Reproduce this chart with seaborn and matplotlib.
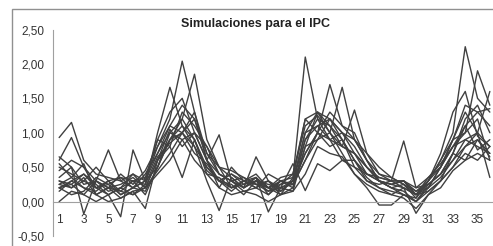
import matplotlib
matplotlib.use('Agg')
import pandas as pd
import matplotlib.pyplot as plt
import matplotlib.patches as patches
import seaborn as sns

sns.set_style("white")
plt.rcParams['font.family'] = ['Liberation Sans', 'DejaVu Sans']

meses = list(range(1, 37))

# simulated IPC paths, one list per simulation
sim01 = [0.25, 0.35, 0.2, 0.15, 0.3, 0.1, 0.2, 0.3, 0.8, 1.2, 2.04, 1.3, 0.6, 0.4, 0.3, 0.2, 0.35, 0.1,
         0.25, 0.4, 1.2, 1.3, 1.1, 0.9, 0.6, 0.4, 0.3, 0.2, 0.15, 0.0, 0.2, 0.5, 0.9, 1.3, 1.0, 0.8]
sim02 = [0.6, 0.93, 0.5, 0.3, 0.2, 0.15, 0.3, 0.25, 1.0, 1.66, 1.1, 0.9, 0.4, 0.35, 0.2, 0.3, 0.25, 0.2,
         0.1, 0.2, 0.9, 1.1, 1.2, 1.0, 0.7, 0.5, 0.35, 0.3, 0.3, 0.1, 0.25, 0.4, 0.7, 1.1, 1.3, 1.1]
sim03 = [0.3, 0.2, 0.35, 0.1, 0.2, 0.05, 0.15, 0.2, 0.6, 0.9, 1.2, 1.85, 0.9, 0.5, 0.35, 0.2, 0.3, 0.15,
         0.2, 0.3, 0.7, 1.0, 1.3, 1.1, 0.9, 0.6, 0.3, 0.2, 0.1, 0.05, 0.3, 0.5, 0.8, 1.0, 1.9, 1.4]
sim04 = [0.2, 0.3, 0.4, 0.25, 0.1, 0.2, 0.3, 0.1, 0.5, 0.9, 1.0, 0.8, 0.5, 0.3, 0.4, 0.3, 0.2, 0.3,
         0.1, 0.35, 2.10, 1.2, 0.9, 0.8, 0.7, 0.4, 0.35, 0.3, 0.2, 0.1, 0.2, 0.35, 0.6, 0.9, 0.8, 0.7]
sim05 = [0.5, 0.4, 0.3, 0.5, 0.3, 0.35, 0.2, 0.4, 0.7, 1.1, 1.0, 1.2, 0.7, 0.5, 0.2, 0.25, 0.35, 0.2,
         0.3, 0.25, 0.6, 1.0, 1.70, 1.1, 1.0, 0.6, 0.3, 0.25, 0.3, 0.1, 0.15, 0.3, 0.7, 1.2, 1.4, 1.0]
sim06 = [0.35, 0.5, 0.25, 0.3, 0.15, 0.2, 0.4, 0.3, 0.9, 0.8, 1.3, 1.1, 0.8, 0.4, 0.3, 0.35, 0.25, 0.15,
         0.3, 0.2, 0.8, 1.3, 1.0, 1.66, 0.9, 0.7, 0.4, 0.35, 0.25, 0.05, 0.3, 0.6, 0.9, 1.0, 1.2, 0.6]
sim07 = [0.2, 0.1, 0.15, 0.35, 0.25, 0.1, 0.2, 0.15, 0.5, 1.0, 0.9, 1.0, 0.6, 0.3, 0.25, 0.1, 0.3, 0.2,
         0.25, 0.3, 0.9, 1.2, 1.1, 0.8, 0.7, 0.5, 0.3, 0.2, 0.25, 0.15, 0.3, 0.6, 1.0, 2.25, 1.5, 1.3]
sim08 = [0.93, 1.15, 0.6, 0.4, 0.35, 0.3, 0.2, 0.3, 0.7, 1.0, 1.2, 0.9, 0.5, 0.3, 0.4, 0.25, 0.3, 0.2,
         0.15, 0.3, 1.0, 1.1, 0.9, 1.0, 0.8, 0.5, 0.3, 0.25, 0.2, 0.1, 0.35, 0.5, 0.8, 0.9, 1.0, 1.6]
sim09 = [0.65, 0.5, -0.18, 0.3, 0.75, 0.3, 0.4, 0.2, 0.6, 1.05, 0.8, 1.0, 0.6, 0.97, 0.3, 0.2, 0.65, 0.3,
         0.2, 0.25, 0.7, 1.0, 0.9, 0.6, 0.5, 0.4, 0.3, 0.25, 0.3, 0.2, 0.25, 0.4, 0.6, 0.8, 1.0, 0.35]
sim10 = [0.25, 0.2, 0.3, 0.2, 0.1, -0.22, 0.75, 0.3, 0.5, 0.9, 1.1, 0.8, 0.3, -0.13, 0.35, 0.2, 0.3, 0.25,
         0.2, 0.15, 0.8, 0.9, 1.2, 0.9, 0.6, 0.3, 0.2, 0.1, 0.2, -0.17, 0.1, 0.3, 0.5, 0.8, 0.9, 0.7]
sim11 = [0.15, 0.3, 0.2, 0.1, 0.0, 0.05, 0.15, -0.1, 0.6, 0.8, 0.35, 0.9, 0.45, 0.3, 0.2, 0.3, 0.35, -0.15,
         0.2, 0.55, 0.16, 0.55, 0.45, 0.6, 0.6, 0.35, 0.2, 0.15, 0.1, 0.0, 0.15, 0.3, 0.5, 0.7, 0.6, 0.8]
sim12 = [0.3, 0.25, 0.4, 0.2, 0.3, 0.15, 0.1, 0.25, 0.65, 0.85, 1.0, 1.3, 0.7, 0.4, 0.3, 0.15, 0.2, 0.1,
         0.3, 0.35, 1.2, 1.0, 0.8, 0.9, 0.5, 0.3, 0.25, 0.3, 0.88, 0.2, 0.35, 0.55, 0.8, 1.1, 0.75, 0.9]
sim13 = [0.0, 0.15, 0.1, 0.3, 0.2, 0.25, 0.35, 0.2, 0.45, 0.7, 1.0, 0.7, 0.55, 0.3, 0.15, 0.3, 0.4, 0.2,
         0.35, 0.4, 1.1, 1.25, 1.0, 0.7, 0.4, 0.2, -0.05, -0.05, 0.1, 0.0, 0.25, 0.4, 0.7, 0.6, 0.9, 0.65]
sim14 = [0.45, 0.6, 0.5, 0.2, 0.25, 0.35, 0.3, 0.35, 0.9, 1.3, 1.5, 1.0, 0.8, 0.5, 0.45, 0.35, 0.25, 0.3,
         0.15, 0.3, 1.0, 1.3, 1.2, 1.0, 0.9, 0.6, 0.4, 0.3, 0.3, 0.15, 0.2, 0.5, 0.9, 1.4, 1.3, 1.35]
sim15 = [0.55, 0.35, 0.55, 0.1, 0.2, 0.4, 0.25, 0.45, 0.8, 1.1, 1.4, 1.2, 0.6, 0.2, 0.5, 0.3, 0.2, 0.4,
         0.3, 0.25, 0.6, 0.9, 1.0, 0.8, 1.33, 0.7, 0.5, 0.35, 0.25, 0.1, 0.3, 0.7, 1.3, 1.6, 0.95, 0.8]
sim16 = [0.2, 0.25, 0.1, 0.0, 0.1, 0.2, 0.1, 0.2, 0.4, 0.6, 0.9, 0.6, 0.4, 0.2, 0.1, 0.15, 0.1, 0.0,
         0.1, 0.15, 0.4, 0.8, 0.7, 0.65, 0.4, 0.25, 0.15, 0.1, 0.05, -0.1, 0.1, 0.2, 0.45, 0.6, 0.7, 0.6]

sims = [sim01, sim02, sim03, sim04, sim05, sim06, sim07, sim08,
        sim09, sim10, sim11, sim12, sim13, sim14, sim15, sim16]

rows = []
for k, s in enumerate(sims):
    for m, v in zip(meses, s):
        rows.append({'sim': k, 'mes': m, 'valor': v})
df = pd.DataFrame(rows)

fig = plt.figure(figsize=(4.93, 2.46), dpi=100)
ax = fig.add_axes([53 / 493, 1 - 236 / 246, 443 / 493, (236 - 29.5) / 246])

sns.lineplot(data=df, x='mes', y='valor', units='sim', estimator=None,
             color='#404040', lw=1.0, ax=ax, legend=False)

ax.set_xlim(0.5, 36.5)
ax.set_ylim(-0.5, 2.5)
ax.set_xlabel('')
ax.set_ylabel('')

# axes look like an old spreadsheet chart
for sp in ['top', 'right']:
    ax.spines[sp].set_visible(False)
ax.spines['bottom'].set_position(('data', 0))
ax.spines['bottom'].set_color('#a0a0a0')
ax.spines['left'].set_color('#a0a0a0')

ax.set_yticks([-0.5, 0, 0.5, 1.0, 1.5, 2.0, 2.5])
ax.set_yticklabels(['-0,50', '0,00', '0,50', '1,00', '1,50', '2,00', '2,50'])
ax.set_xticks(list(range(1, 37, 2)))
ax.set_xticklabels([str(i) for i in range(1, 37, 2)])
ax.set_xticks([i + 0.5 for i in range(0, 37)], minor=True)
ax.tick_params(axis='y', which='major', length=4, color='#a0a0a0', labelsize=8.5, pad=2, labelcolor='#333333')
ax.tick_params(axis='x', which='major', length=0, labelsize=8.5, pad=9, labelcolor='#333333')
ax.tick_params(axis='x', which='minor', length=3, color='#a0a0a0', direction='out')

fig.text(255 / 493, 1 - 24 / 246, 'Simulaciones para el IPC', ha='center', va='center',
         fontsize=9, fontweight='bold', color='#222222')

# outer chart frame
fig.patches.append(patches.Rectangle((12 / 493, -0.2), 1.0, 1.2 - 9 / 246, transform=fig.transFigure,
                                     fill=False, edgecolor='#909090', lw=1.0))

fig.savefig('out.png', dpi=100)
